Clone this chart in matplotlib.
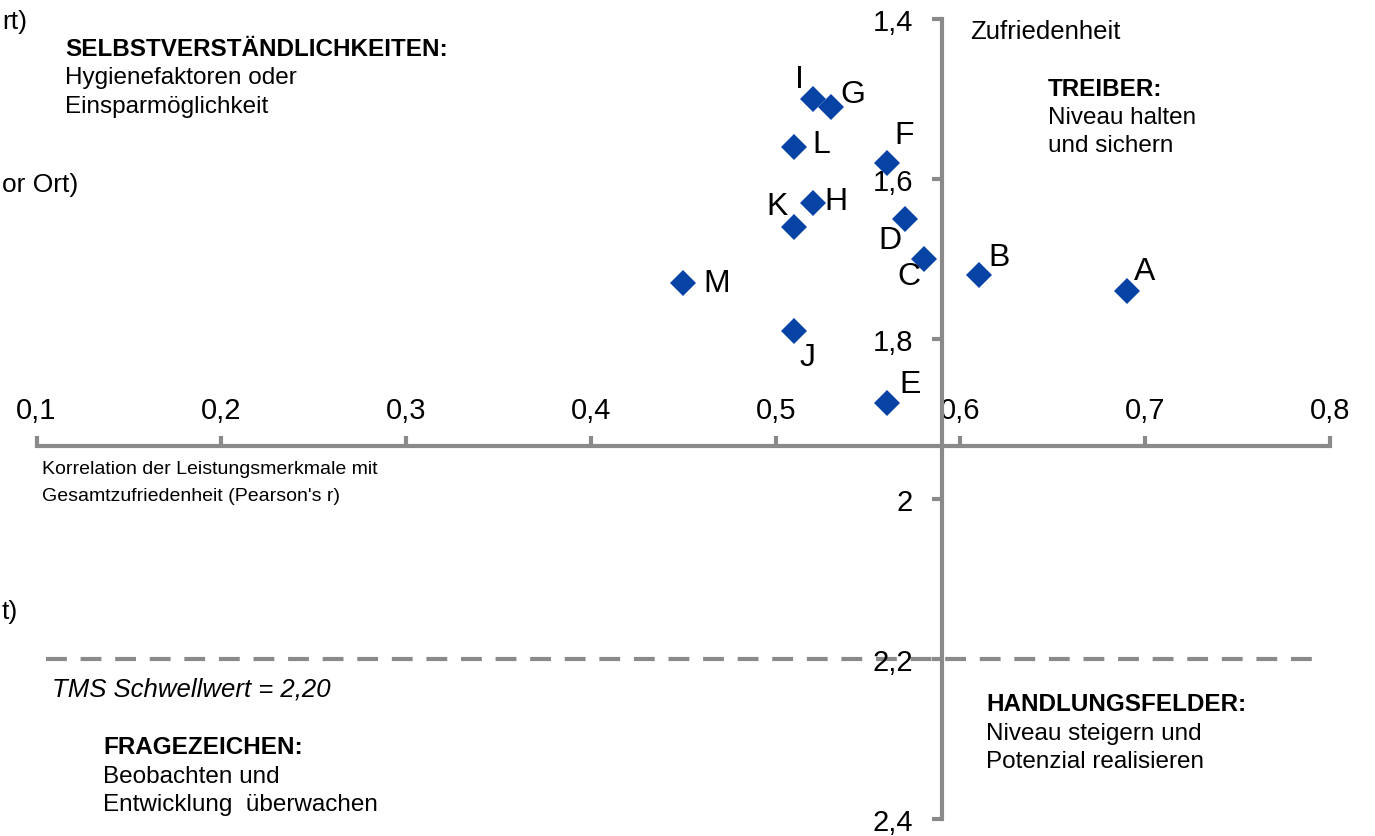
import matplotlib
matplotlib.use('Agg')
import matplotlib.pyplot as plt

plt.rcParams['font.family'] = ['Liberation Sans', 'DejaVu Sans']

# Daten: Korrelation (x) und Zufriedenheit (y)
labels = ['A', 'B', 'C', 'D', 'E', 'F', 'G', 'H', 'I', 'J', 'K', 'L', 'M']
korrelation = [0.69, 0.61, 0.58, 0.57, 0.56, 0.56, 0.53, 0.52, 0.52, 0.51, 0.51, 0.51, 0.45]
zufriedenheit = [1.74, 1.72, 1.70, 1.65, 1.88, 1.58, 1.51, 1.63, 1.50, 1.79, 1.66, 1.56, 1.73]

x_ticks = [0.1, 0.2, 0.3, 0.4, 0.5, 0.6, 0.7, 0.8]
x_ticklabels = ['0,1', '0,2', '0,3', '0,4', '0,5', '0,6', '0,7', '0,8']
y_ticks = [1.4, 1.6, 1.8, 2.0, 2.2, 2.4]
y_ticklabels = ['1,4', '1,6', '1,8', '2', '2,2', '2,4']

schwellwert = 2.20
achse_x = 0.59     # Position der y-Achse
achse_y = 1.934    # Position der x-Achse

# Label-Versatz in Pixel (dx, dy nach unten)
offsets = {
    'A': (18, -20), 'B': (20, -18), 'C': (-15, 17), 'D': (-15, 21),
    'E': (23, -19), 'F': (18, -28), 'G': (22, -13), 'H': (23, -2),
    'I': (-13, -20), 'J': (13, 26), 'K': (-17, -21), 'L': (27, -3),
    'M': (33, 0),
}

grau = '#8a8a8a'
blau = '#0643a5'
fs = 17.5

fig = plt.figure(figsize=(13.75, 8.37), dpi=100)
ax = fig.add_axes([0, 0, 1, 1])
ax.set_xlim(0.1 - 36.5 / 1848, 0.1 + (1375 - 36.5) / 1848)
ax.set_ylim(1.4 + 817 / 800, 1.4 - 20 / 800)

# Achsen als Kreuz
for s in ['top', 'right']:
    ax.spines[s].set_visible(False)
ax.spines['left'].set_position(('data', achse_x))
ax.spines['bottom'].set_position(('data', achse_y))
ax.spines['left'].set_bounds(1.4, 2.4)
ax.spines['bottom'].set_bounds(0.1, 0.8)
for s in ['left', 'bottom']:
    ax.spines[s].set_color(grau)
    ax.spines[s].set_linewidth(3)
    ax.spines[s].set_capstyle('projecting')

ax.set_xticks(x_ticks)
ax.set_xticklabels(x_ticklabels)
ax.set_yticks(y_ticks)
ax.set_yticklabels(y_ticklabels)
ax.tick_params(axis='x', direction='in', length=7, width=3, color=grau,
               labelsize=21, pad=-36)
ax.tick_params(axis='y', direction='out', length=7, width=3, color=grau,
               labelsize=21, pad=14)

# Schwellwert
ax.plot([0.1054, 0.797], [schwellwert, schwellwert], color=grau, lw=3,
        dashes=(5, 3.3), zorder=1)

# Punkte
ax.plot(korrelation, zufriedenheit, linestyle='none', marker='D', ms=13.5,
        color=blau, markeredgewidth=0, zorder=3)
for lab, xv, yv in zip(labels, korrelation, zufriedenheit):
    dx, dy = offsets[lab]
    ax.annotate(lab, (xv, yv), xytext=(dx * 0.72, -dy * 0.72),
                textcoords='offset points', ha='center', va='center',
                fontsize=23)

def px(x, y):
    return x / 1375, 1 - y / 837

# Quadranten-Texte
fig.text(*px(65, 50), 'SELBSTVERSTÄNDLICHKEITEN:', fontsize=fs,
         fontweight='bold', va='center')
fig.text(*px(65, 78), 'Hygienefaktoren oder', fontsize=fs, va='center')
fig.text(*px(65, 107), 'Einsparmöglichkeit', fontsize=fs, va='center')

fig.text(*px(1048, 90), 'TREIBER:', fontsize=fs, fontweight='bold', va='center')
fig.text(*px(1048, 118), 'Niveau halten', fontsize=fs, va='center')
fig.text(*px(1048, 146), 'und sichern', fontsize=fs, va='center')

fig.text(*px(103, 748), 'FRAGEZEICHEN:', fontsize=fs, fontweight='bold', va='center')
fig.text(*px(103, 777), 'Beobachten und', fontsize=fs, va='center')
fig.text(*px(103, 805), 'Entwicklung  überwachen', fontsize=fs, va='center')

fig.text(*px(986, 705), 'HANDLUNGSFELDER:', fontsize=fs, fontweight='bold', va='center')
fig.text(*px(986, 734), 'Niveau steigern und', fontsize=fs, va='center')
fig.text(*px(986, 762), 'Potenzial realisieren', fontsize=fs, va='center')

fig.text(*px(970, 32), 'Zufriedenheit', fontsize=18.5, va='center')
fig.text(*px(52, 690), 'TMS Schwellwert = 2,20', fontsize=18.5, style='italic',
         va='center')
fig.text(*px(42, 470), 'Korrelation der Leistungsmerkmale mit', fontsize=14,
         va='center')
fig.text(*px(42, 497), "Gesamtzufriedenheit (Pearson's r)", fontsize=14,
         va='center')

# Textreste am linken Rand (im Original abgeschnitten)
fig.text(*px(2, 22), 'rt)', fontsize=19, va='center', ha='left')
fig.text(*px(2, 185), 'or Ort)', fontsize=19, va='center', ha='left')
fig.text(*px(2, 612), 't)', fontsize=19, va='center', ha='left')

fig.savefig('out.png', dpi=100)
